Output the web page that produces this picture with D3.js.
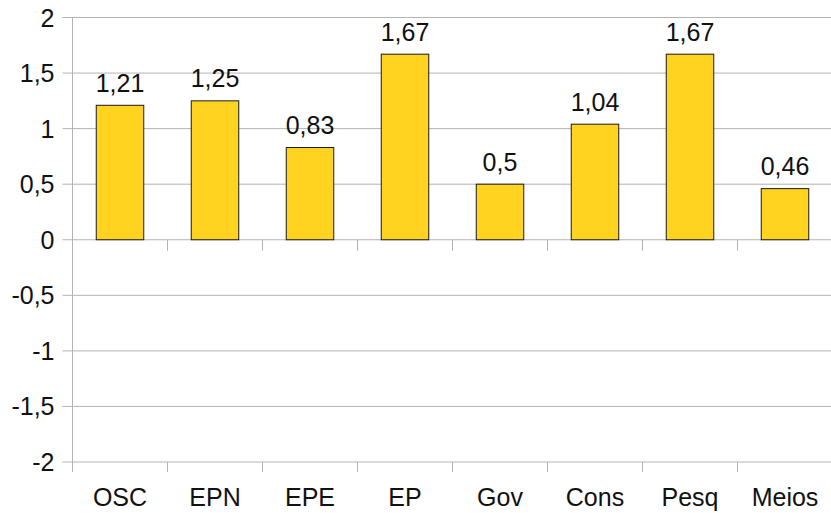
<!DOCTYPE html>
<html>
<head>
<meta charset="utf-8">
<script src="https://cdn.jsdelivr.net/npm/d3@7"></script>
<style>
  body { margin: 0; background: #fff; }
  text { font-family: "Liberation Sans", Arial, sans-serif; fill: #111; }
</style>
</head>
<body>
<svg id="chart" width="831" height="513"></svg>
<script>
// data
const categories = ["OSC", "EPN", "EPE", "EP", "Gov", "Cons", "Pesq", "Meios"]
const values = [1.21, 1.25, 0.83, 1.67, 0.5, 1.04, 1.67, 0.46]
const yTicks = [-2, -1.5, -1, -0.5, 0, 0.5, 1, 1.5, 2]

const width = 831, height = 513
const margin = { top: 17.5, right: -1.5, bottom: 51, left: 72.5 }
const fontSize = 25

const svg = d3.select("#chart")
const fmt = v => String(v).replace(".", ",")

const x = d3.scaleBand()
  .domain(categories)
  .range([margin.left, width - margin.right])
  .paddingInner(0.5)
  .paddingOuter(0.25)

const y = d3.scaleLinear()
  .domain([-2, 2])
  .range([height - margin.bottom, margin.top])

const gridColor = "#b3b3b3"

// horizontal grid lines + y tick marks
svg.append("g")
  .selectAll("line")
  .data(yTicks)
  .join("line")
    .attr("x1", margin.left - 10)
    .attr("x2", width)
    .attr("y1", d => y(d))
    .attr("y2", d => y(d))
    .attr("stroke", gridColor)
    .attr("stroke-width", 1)

// y axis line
svg.append("line")
  .attr("x1", margin.left).attr("x2", margin.left)
  .attr("y1", y(2)).attr("y2", y(-2) + 10)
  .attr("stroke", gridColor)

// y labels
svg.append("g")
  .selectAll("text")
  .data(yTicks)
  .join("text")
    .attr("x", margin.left - 18)
    .attr("y", d => y(d))
    .attr("dy", "0.36em")
    .attr("text-anchor", "end")
    .attr("font-size", fontSize)
    .text(fmt)

// category boundary ticks at zero line and bottom
const step = x.step()
const bounds = d3.range(1, categories.length + 1).map(i => margin.left + i * step)
const tickG = svg.append("g")
tickG.selectAll("line.z")
  .data(bounds)
  .join("line")
    .attr("class", "z")
    .attr("x1", d => d).attr("x2", d => d)
    .attr("y1", y(0)).attr("y2", y(0) + 11)
    .attr("stroke", gridColor)
tickG.selectAll("line.b")
  .data(bounds)
  .join("line")
    .attr("class", "b")
    .attr("x1", d => d).attr("x2", d => d)
    .attr("y1", y(-2)).attr("y2", y(-2) + 10)
    .attr("stroke", gridColor)

// bars
svg.append("g")
  .selectAll("rect")
  .data(values)
  .join("rect")
    .attr("x", (d, i) => x(categories[i]))
    .attr("y", d => y(d))
    .attr("width", x.bandwidth())
    .attr("height", d => y(0) - y(d))
    .attr("fill", "#ffd320")
    .attr("stroke", "#1a1a1a")
    .attr("stroke-width", 1)

// value labels
svg.append("g")
  .selectAll("text")
  .data(values)
  .join("text")
    .attr("x", (d, i) => x(categories[i]) + x.bandwidth() / 2)
    .attr("y", d => y(d) - 13.5)
    .attr("text-anchor", "middle")
    .attr("font-size", fontSize)
    .text(fmt)

// category labels
svg.append("g")
  .selectAll("text")
  .data(categories)
  .join("text")
    .attr("x", d => x(d) + x.bandwidth() / 2)
    .attr("y", 506)
    .attr("text-anchor", "middle")
    .attr("font-size", fontSize)
    .text(d => d)
</script>
</body>
</html>
